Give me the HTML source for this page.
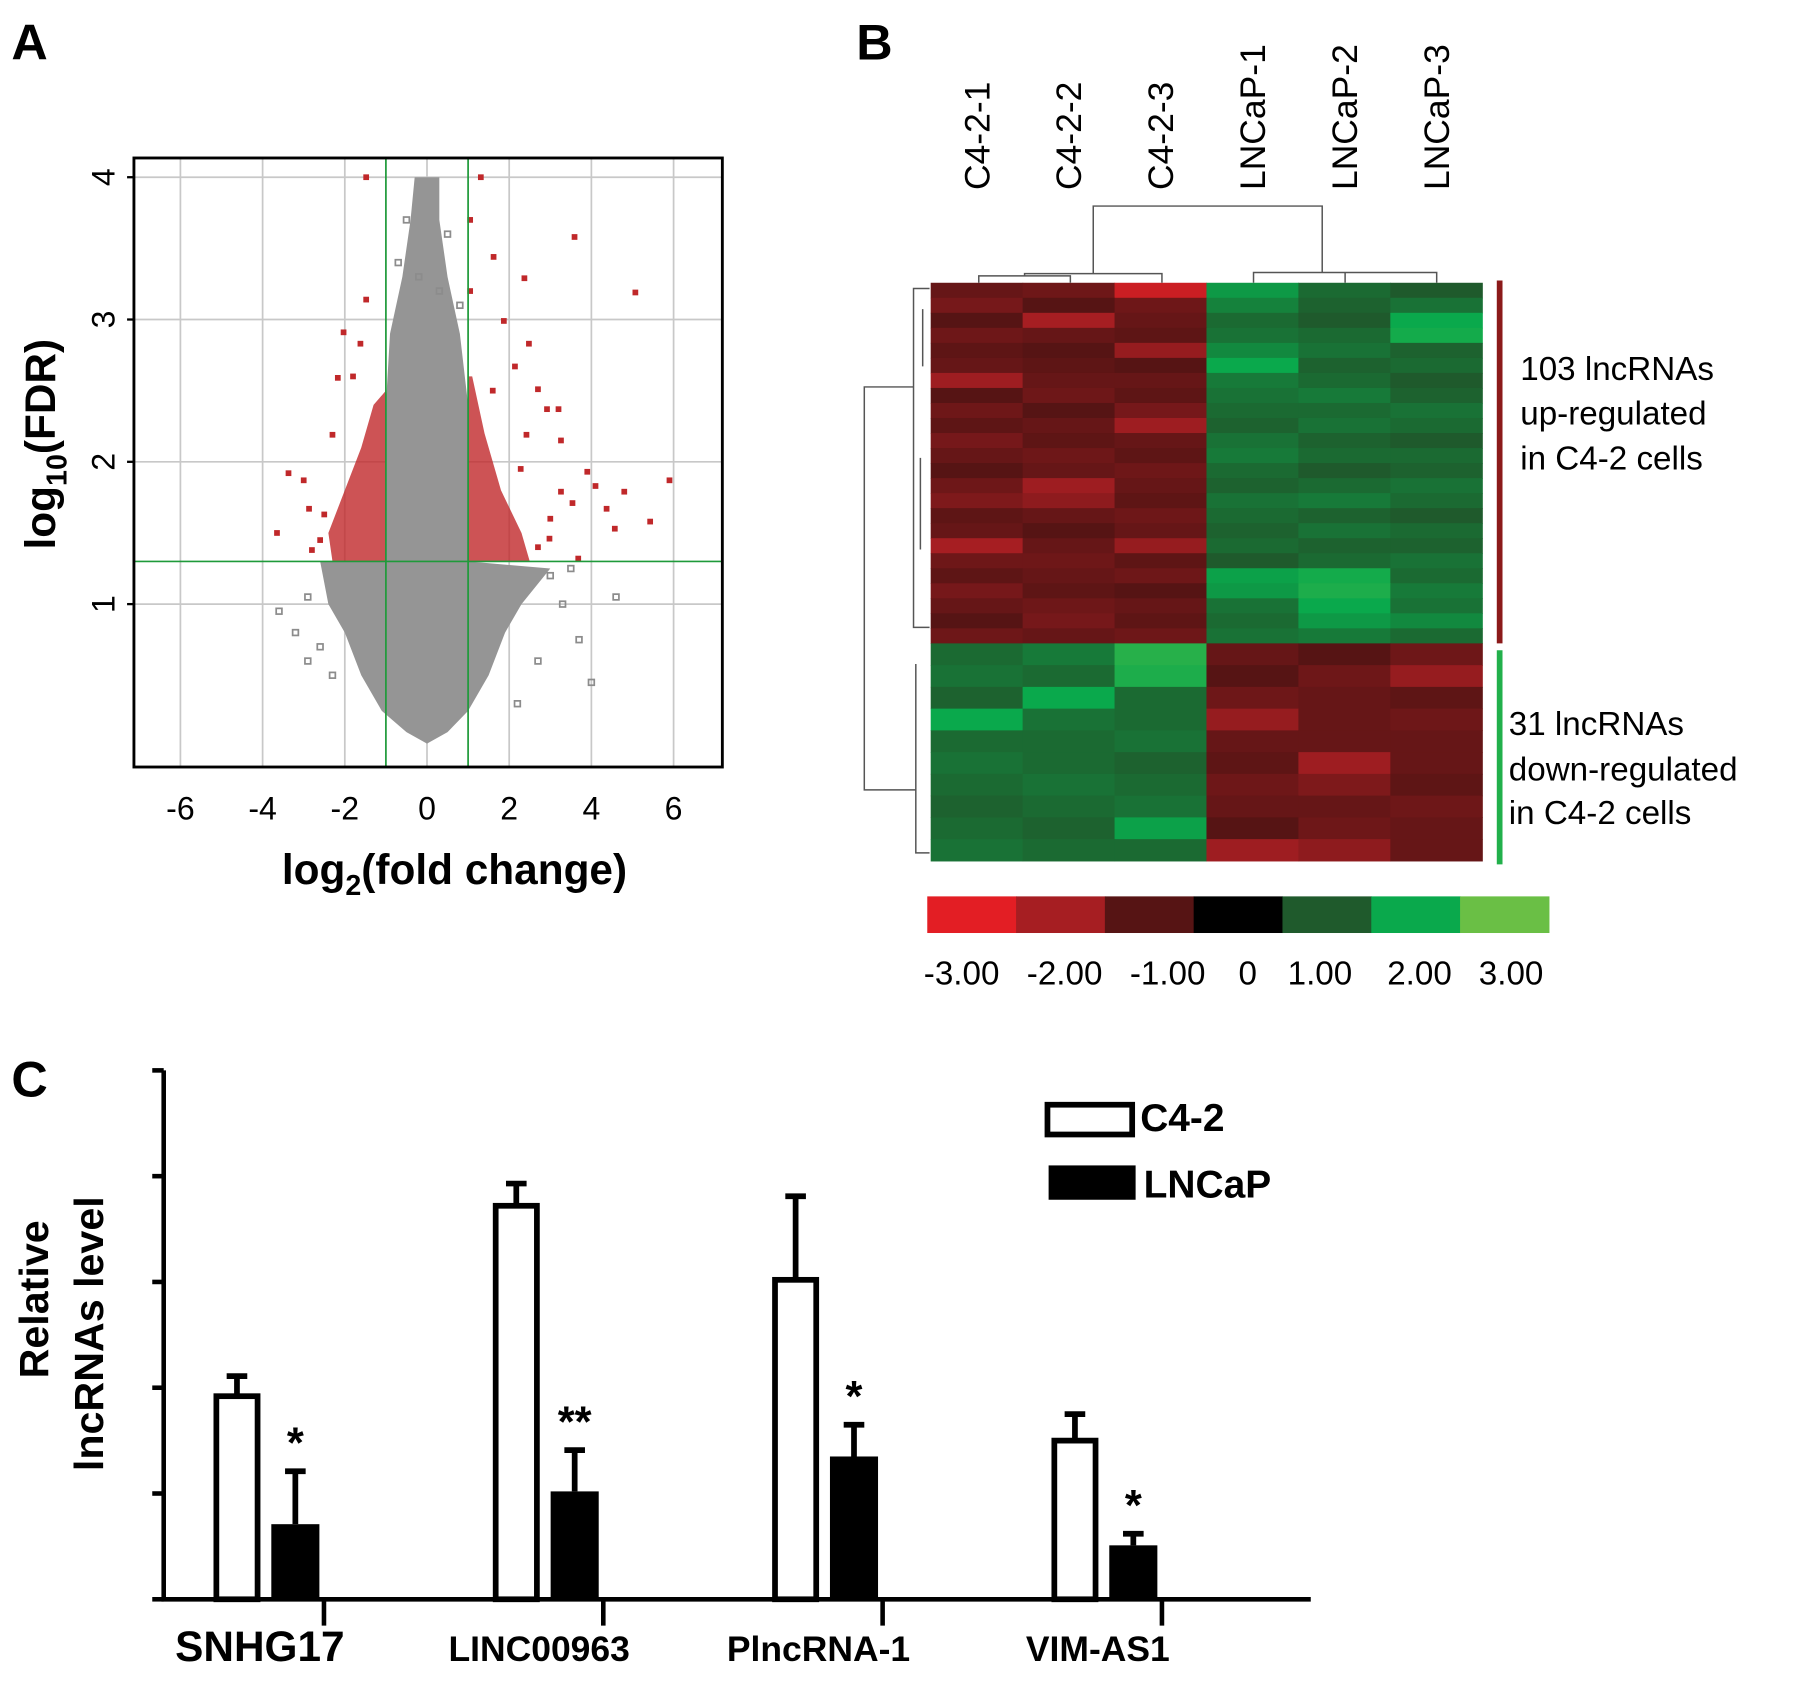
<!DOCTYPE html>
<html><head><meta charset="utf-8"><style>
html,body{margin:0;padding:0;background:#fff;}
svg{display:block;font-family:"Liberation Sans",Arial,sans-serif;}
</style></head><body>
<svg id="fig" width="1795" height="1684" viewBox="0 0 1568 1471" preserveAspectRatio="none" xmlns="http://www.w3.org/2000/svg">
<text x="10" y="52" font-size="44" font-weight="bold">A</text>
<text x="748" y="52" font-size="44" font-weight="bold">B</text>
<text x="10" y="958" font-size="44" font-weight="bold">C</text>
<g id="va"></g>
<g id="hm"></g>
<g id="bc"></g>
</svg>
<script>
// ---------- Panel A data ----------
const volXTicks=[-6,-4,-2,0,2,4,6];
const volYTicks=[1,2,3,4];
const fcThreshold=1;
const fdrThreshold=1.3;
const grayCloudX=[0,0.5,1.0,1.5,1.9,2.3,3.0,1.0,1.0,0.8,0.5,0.3,0.3,-0.3,-0.4,-0.6,-0.9,-1.0,-1.0,-2.6,-2.4,-2.0,-1.6,-1.1,-0.5];
const grayCloudY=[0.02,0.1,0.25,0.5,0.8,1.0,1.25,1.3,2.4,2.9,3.3,3.7,4.0,4.0,3.7,3.3,2.9,2.4,1.3,1.3,1.0,0.8,0.5,0.25,0.1];
const grayPtsX=[-3.6,-3.2,-2.9,-2.6,-2.3,3.0,3.3,3.7,4.6,4.0,2.7,-0.5,0.5,-0.2,0.3,0.8,-0.7,-2.9,3.5,2.2];
const grayPtsY=[0.95,0.8,0.6,0.7,0.5,1.2,1.0,0.75,1.05,0.45,0.6,3.7,3.6,3.3,3.2,3.1,3.4,1.05,1.25,0.3];
const redLeftX=[-1,-2.3,-2.4,-2.0,-1.6,-1.3,-1.0];
const redLeftY=[1.3,1.3,1.5,1.8,2.1,2.4,2.5];
const redRightX=[1,2.5,2.3,1.8,1.4,1.1,1.0];
const redRightY=[1.3,1.3,1.5,1.8,2.2,2.6,2.6];
const redPtsX=[-1.48,1.31,3.59,1.62,2.37,5.07,-1.48,5.9,-3.37,-3.65,-2.87,5.43,4.57,3.68,3.26,2.92,3.2,3.9,4.1,-2.03,-1.62,-2.17,2.48,2.14,2.7,2.42,3.54,2.98,1.87,-2.5,-3.0,-2.3,4.8,4.37,2.28,3.26,1.05,1.05,-2.6,-2.8,2.7,3.0,-1.8,1.6];
const redPtsY=[4.0,4.0,3.58,3.44,3.29,3.19,3.14,1.87,1.92,1.5,1.67,1.58,1.53,1.32,2.15,2.37,2.37,1.93,1.83,2.91,2.83,2.59,2.83,2.67,2.51,2.19,1.71,1.46,2.99,1.63,1.87,2.19,1.79,1.67,1.95,1.79,3.7,3.2,1.45,1.38,1.4,1.6,2.6,2.5];

// ---------- Panel B data ----------
const hmCols=["C4-2-1","C4-2-2","C4-2-3","LNCaP-1","LNCaP-2","LNCaP-3"];
const hmUp=[
[-1.2,-1.3,-2.6,1.8,1.2,1.0],[-1.4,-1.0,-1.3,1.5,1.1,1.3],[-1.0,-2.0,-1.2,1.2,1.0,2.0],[-1.3,-1.2,-1.1,1.3,1.2,2.1],
[-1.1,-1.0,-1.8,1.6,1.3,1.1],[-1.2,-1.1,-1.0,2.0,1.1,1.2],[-1.9,-1.2,-1.2,1.4,1.2,1.0],[-1.0,-1.3,-1.1,1.3,1.4,1.1],
[-1.3,-1.0,-1.4,1.2,1.2,1.3],[-1.1,-1.2,-1.9,1.1,1.3,1.2],[-1.4,-1.1,-1.2,1.3,1.1,1.0],[-1.2,-1.3,-1.1,1.4,1.2,1.2],
[-1.0,-1.2,-1.3,1.2,1.0,1.1],[-1.3,-1.9,-1.2,1.1,1.2,1.3],[-1.5,-1.7,-1.1,1.3,1.4,1.2],[-1.1,-1.2,-1.3,1.2,1.1,1.0],
[-1.2,-1.0,-1.2,1.1,1.3,1.2],[-2.0,-1.2,-1.8,1.2,1.1,1.1],[-1.3,-1.3,-1.1,1.0,1.2,1.3],[-1.1,-1.2,-1.3,1.9,2.1,1.2],
[-1.4,-1.1,-1.0,1.8,2.2,1.4],[-1.2,-1.3,-1.2,1.3,2.0,1.3],[-1.0,-1.4,-1.1,1.2,1.8,1.6],[-1.3,-1.2,-1.3,1.3,1.4,1.2]];
const hmDown=[
[1.2,1.4,2.3,-1.2,-1.0,-1.3],[1.3,1.2,2.2,-1.0,-1.3,-1.8],[1.1,2.0,1.2,-1.3,-1.2,-1.1],[2.0,1.3,1.2,-1.8,-1.2,-1.3],
[1.2,1.2,1.3,-1.2,-1.2,-1.2],[1.3,1.2,1.1,-1.1,-1.9,-1.2],[1.2,1.3,1.2,-1.3,-1.5,-1.1],[1.1,1.2,1.3,-1.2,-1.2,-1.3],
[1.2,1.1,1.9,-1.0,-1.3,-1.2],[1.3,1.2,1.2,-1.9,-1.7,-1.2]];
const scaleValues=[-3,-2,-1,0,1,2,3];
const scaleColors=["#e31e24","#a61e22","#561414","#000000","#1f5a2c","#0aa94c","#6abf45"];
const scaleLabels=["-3.00","-2.00","-1.00","0","1.00","2.00","3.00"];

// ---------- Panel C data ----------
const genes=["SNHG17","LINC00963","PlncRNA-1","VIM-AS1"];
const c42Vals=[1.92,3.72,3.02,1.50];
const c42Err=[0.19,0.21,0.79,0.25];
const lncVals=[0.71,1.02,1.35,0.51];
const lncErr=[0.50,0.39,0.30,0.11];
const sigMarks=["*","**","*","*"];
const barYTicks=[0,1,2,3,4,5];

const NS="http://www.w3.org/2000/svg";
function mk(tag,attrs,parent,text){const e=document.createElementNS(NS,tag);for(const k in attrs)e.setAttribute(k,attrs[k]);if(text!==undefined)e.textContent=text;parent.appendChild(e);return e;}

// ===== Panel A =====
(function(){
const g=document.getElementById('va');
const L=117,R=631,T=138,B=670;
const sx=v=>373+v*35.9, sy=v=>652-v*124.3;
volXTicks.forEach(t=>{const l=mk('line',{x1:sx(t),x2:sx(t),y1:T,y2:B,stroke:'#c8c8c8','stroke-width':1.5},g);
});
volYTicks.forEach(t=>{const l=mk('line',{x1:L,x2:R,y1:sy(t),y2:sy(t),stroke:'#c8c8c8','stroke-width':1.5},g);
});
let p=grayCloudX.map((x,i)=>sx(x)+','+sy(grayCloudY[i])).join(' ');
const cloud=mk('polygon',{points:p,fill:'#959595'},g);

grayPtsX.forEach((x,i)=>{const r=mk('rect',{x:sx(x)-2.5,y:sy(grayPtsY[i])-2.5,width:5,height:5,fill:'none',stroke:'#8c8c8c','stroke-width':1.5},g);
});
[[redLeftX,redLeftY],[redRightX,redRightY]].forEach(([xs,ys])=>{
const pg=mk('polygon',{points:xs.map((x,i)=>sx(x)+','+sy(ys[i])).join(' '),fill:'#c0282a',opacity:0.8},g);
});
redPtsX.forEach((x,i)=>{const r=mk('rect',{x:sx(x)-2.5,y:sy(redPtsY[i])-2.5,width:5,height:5,fill:'#c0282a'},g);
});
[-fcThreshold,fcThreshold].forEach(v=>{const l=mk('line',{x1:sx(v),x2:sx(v),y1:T,y2:B,stroke:'#1f9a3a','stroke-width':1.5},g);
});
const h=mk('line',{x1:L,x2:R,y1:sy(fdrThreshold),y2:sy(fdrThreshold),stroke:'#1f9a3a','stroke-width':1.5},g);

const fr=mk('rect',{x:L,y:T,width:R-L,height:B-T,fill:'none',stroke:'#000','stroke-width':2.5},g);

volXTicks.forEach(t=>{const tx=mk('text',{x:sx(t),y:716,'font-size':28,'text-anchor':'middle'},g,String(t));
});
volYTicks.forEach(t=>{mk('line',{x1:L-6,x2:L,y1:sy(t),y2:sy(t),stroke:'#000','stroke-width':2},g);
const tx=mk('text',{x:0,y:0,'font-size':28,'text-anchor':'middle',transform:`translate(100,${sy(t)}) rotate(-90)`},g,String(t));
});
const xt=mk('text',{x:397,y:772,'font-size':37,'font-weight':'bold','text-anchor':'middle'},g);

xt.innerHTML='log<tspan font-size="25" dy="10">2</tspan><tspan dy="-10">(fold change)</tspan>';
const yt=mk('text',{x:0,y:0,'font-size':37,'font-weight':'bold','text-anchor':'middle',transform:'translate(48,388) rotate(-90)'},g);

yt.innerHTML='log<tspan font-size="25" dy="10">10</tspan><tspan dy="-10">(FDR)</tspan>';
})();

// ===== Panel B =====
(function(){
const g=document.getElementById('hm');
const X0=813,CW=80.3,T=247,MID=562,B=752;
function col(v){v=Math.max(-3,Math.min(3,v));let i=Math.min(5,Math.floor(v+3));const f=v+3-i;
const a=scaleColors[i],b=scaleColors[i+1];const c=k=>Math.round(parseInt(a.substr(k,2),16)*(1-f)+parseInt(b.substr(k,2),16)*f);
return `rgb(${c(1)},${c(3)},${c(5)})`;}
function drawGroup(rows,y0,y1){const rh=(y1-y0)/rows.length;
rows.forEach((row,ri)=>row.forEach((v,ci)=>{const r=mk('rect',{x:X0+ci*CW,y:y0+ri*rh,width:CW+0.5,height:rh+0.5,fill:col(v)},g);
}));}
drawGroup(hmUp,T,MID);drawGroup(hmDown,MID,B);
hmCols.forEach((c,i)=>{const t=mk('text',{x:0,y:0,'font-size':31,'text-anchor':'start',transform:`translate(${X0+CW*(i+0.5)+11},166) rotate(-90)`},g,c);
});
const d=mk('path',{d:'M855 247V241H935V247M895 241V239H1015V247M955 239V180H1155V238M1095 247V238H1255V247M1175 238V247',fill:'none',stroke:'#555','stroke-width':1.3},g);

const d2=mk('path',{d:'M812 252H798V548H812M798 338H755V690H800M800 580V745H812M806 270V320M804 400V480',fill:'none',stroke:'#555','stroke-width':1.3},g);

const b1=mk('line',{x1:1310,x2:1310,y1:245,y2:562,stroke:'#8b1a1a','stroke-width':5},g);

const b2=mk('line',{x1:1310,x2:1310,y1:568,y2:755,stroke:'#22b04b','stroke-width':5},g);

[["103 lncRNAs",1328,332],["up-regulated",1328,371],["in C4-2 cells",1328,410],["31 lncRNAs",1318,642],["down-regulated",1318,682],["in C4-2 cells",1318,720]].forEach(([s,x,y])=>{
const t=mk('text',{x:x,y:y,'font-size':29},g,s);});
const sw=(1353-810)/7;
scaleColors.forEach((c,i)=>{const r=mk('rect',{x:810+i*sw,y:783,width:sw+0.5,height:32,fill:c},g);
});
const lx=[840,930,1020,1090,1153,1240,1320];
scaleLabels.forEach((s,i)=>{const t=mk('text',{x:lx[i],y:860,'font-size':29,'text-anchor':'middle'},g,s);
});
})();

// ===== Panel C =====
(function(){
const g=document.getElementById('bc');
const X0=143,XE=1145,Y0=1397,U=92.4;
const sy=v=>Y0-v*U;
const centers=[233,477,721,965];
const ax=mk('path',{d:`M${X0} ${sy(5)}V${Y0}H${XE}`,fill:'none',stroke:'#000','stroke-width':4},g);

barYTicks.forEach(t=>{const l=mk('line',{x1:X0-10,x2:X0,y1:sy(t),y2:sy(t),stroke:'#000','stroke-width':4},g);
});
genes.forEach((gn,i)=>{
const c=centers[i];
mk('line',{x1:c+50,x2:c+50,y1:Y0,y2:Y0+23,stroke:'#000','stroke-width':4},g);
[[c-26,c42Vals[i],c42Err[i]],[c+25,lncVals[i],lncErr[i]]].forEach(([x,v,e])=>{
const eb=mk('path',{d:`M${x} ${sy(v)}V${sy(v+e)}M${x-9} ${sy(v+e)}H${x+9}`,stroke:'#000','stroke-width':5,fill:'none'},g);
});
const w=mk('rect',{x:c-44,y:sy(c42Vals[i]),width:36,height:c42Vals[i]*U,fill:'#fff',stroke:'#000','stroke-width':5},g);

const k=mk('rect',{x:c+4,y:sy(lncVals[i]),width:42,height:lncVals[i]*U,fill:'#000'},g);

const s=mk('text',{x:c+25,y:sy(lncVals[i]+lncErr[i])-12,'font-size':38,'font-weight':'bold','text-anchor':'middle'},g,sigMarks[i]);

const lb=mk('text',{x:c-6,y:1451,'font-size':i==0?37:31,'font-weight':'bold','text-anchor':'middle'},g,gn);

});
const yt=mk('text',{x:0,y:0,'font-size':36,'font-weight':'bold','text-anchor':'middle',transform:'translate(42,1135) rotate(-90)'},g,'Relative');

const yt2=mk('text',{x:0,y:0,'font-size':36,'font-weight':'bold','text-anchor':'middle',transform:'translate(90,1165) rotate(-90)'},g,'lncRNAs level');

const l1=mk('rect',{x:915,y:965,width:74,height:26,fill:'#fff',stroke:'#000','stroke-width':5},g);

const t1=mk('text',{x:996,y:988,'font-size':34,'font-weight':'bold'},g,'C4-2');

const l2=mk('rect',{x:916,y:1018,width:76,height:30,fill:'#000'},g);

const t2=mk('text',{x:999,y:1046,'font-size':34,'font-weight':'bold'},g,'LNCaP');

})();
</script>
</body></html>
